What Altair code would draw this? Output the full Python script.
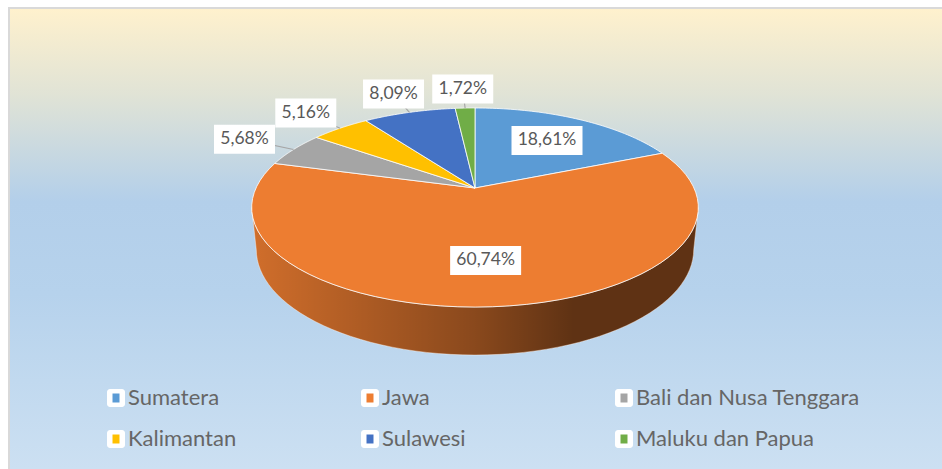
import math
import altair as alt
import pandas as pd

# ---- data ----
regions = ["Sumatera", "Jawa", "Bali dan Nusa Tenggara", "Kalimantan", "Sulawesi", "Maluku dan Papua"]
shares = [18.61, 60.74, 5.68, 5.16, 8.09, 1.72]
labels = ["18,61%", "60,74%", "5,68%", "5,16%", "8,09%", "1,72%"]
colors = ["#5B9BD5", "#ED7D31", "#A5A5A5", "#FFC000", "#4472C4", "#70AD47"]

df = pd.DataFrame({"region": regions, "share": shares, "label": labels,
                   "order": list(range(len(regions)))})

# ---- layout / 3-D projection constants ----
W, H = 942, 469
CX, CY = 475, 188          # apex of the pie on screen
A = 219                    # projected radius scale
S, C = 0.437, 0.8995       # sin / cos of the tilt
Q = 0.218                  # radius / camera distance (perspective)
K = Q * C
HD = 0.213                 # pie thickness (relative to radius)
N = 60                     # vertices per arc
RI, RO = 0.66, 1.3         # label radius inside / outside
T1 = math.acos(-K) / (2 * math.pi)
T2 = 1 - T1
# legend grid
LX0, LY0, LDX, LDY, NCOL = 116, 398, 254, 41, 3


def proj(u, w, h="0"):
    den = f"(1 + {Q * C}*({w}) + {Q * S}*({h}))"
    px = f"{CX} + {A}*({u})/{den}"
    py = f"{CY} - {A}*({S}*({w}) - {C}*({h}))/{den}"
    return px, py


def xs(f):
    return alt.X(f, type="quantitative", axis=None,
                 scale=alt.Scale(domain=[0, W], nice=False, zero=False))


def ys(f):
    return alt.Y(f, type="quantitative", axis=None,
                 scale=alt.Scale(domain=[0, H], nice=False, zero=False, reverse=True))


fill_scale = alt.Scale(domain=regions, range=colors)

base = (
    alt.Chart(df)
    .transform_window(cum="sum(share)", sort=[alt.SortField("order")], frame=[None, 0])
    .transform_joinaggregate(total="sum(share)")
    .transform_calculate(t1="(datum.cum - datum.share)/datum.total")
    .transform_calculate(t2="datum.cum/datum.total")
)

# ---- background panel ----
bg_grad = {
    "gradient": "linear", "x1": 0, "y1": 0, "x2": 0, "y2": 1,
    "stops": [
        {"offset": 0.0, "color": "#FFF1CD"},
        {"offset": 0.19, "color": "#E0E3D6"},
        {"offset": 0.42, "color": "#B3CFEA"},
        {"offset": 0.62, "color": "#B6D2EC"},
        {"offset": 1.0, "color": "#CCE0F2"},
    ],
}
one = pd.DataFrame({"k": [0]})
bg = alt.Chart(one).mark_rect(fill=bg_grad).encode(
    x=alt.value(10), x2=alt.value(W), y=alt.value(8), y2=alt.value(H))
border_top = alt.Chart(one).mark_rule(color="#D9D9D9", strokeWidth=2).encode(
    x=alt.value(9), x2=alt.value(W), y=alt.value(8))
border_left = alt.Chart(one).mark_rule(color="#D9D9D9", strokeWidth=2).encode(
    x=alt.value(9), y=alt.value(7), y2=alt.value(H))

# ---- side (rim) of the pie ----
spx, spy = proj("datum.u", "datum.w", "datum.h")
side_data = (
    base
    .transform_calculate(a=f"max(datum.t1, {T1})")
    .transform_calculate(b=f"min(datum.t2, {T2})")
    .transform_filter("datum.a < datum.b")
    .transform_calculate(idx=f"sequence(0, {2 * N + 2})")
    .transform_flatten(["idx"])
    .transform_calculate(h=f"datum.idx > {N} ? {HD} : 0")
    .transform_calculate(tt=f"datum.idx <= {N} ? datum.a + (datum.b - datum.a)*datum.idx/{N} : datum.b - (datum.b - datum.a)*(datum.idx - {N + 1})/{N}")
    .transform_calculate(u="sin(2*PI*datum.tt)")
    .transform_calculate(w="cos(2*PI*datum.tt)")
    .transform_calculate(px=spx)
    .transform_calculate(py=spy)
)
side = side_data.mark_line(interpolate="linear-closed", stroke="transparent").encode(
    x=xs("px"), y=ys("py"), order=alt.Order("idx:Q"),
    fill=alt.Fill("region:N", scale=fill_scale, sort=regions, legend=None),
)
shade_grad = {
    "gradient": "linear", "x1": 0, "y1": 0, "x2": 1, "y2": 0,
    "stops": [
        {"offset": 0.0, "color": "rgba(0,0,0,0.12)"},
        {"offset": 0.5, "color": "rgba(0,0,0,0.42)"},
        {"offset": 0.72, "color": "rgba(0,0,0,0.6)"},
        {"offset": 1.0, "color": "rgba(0,0,0,0.6)"},
    ],
}
shade = side_data.mark_line(interpolate="linear-closed", fill=shade_grad, stroke="#FFFFFF",
                            strokeWidth=0.8, strokeOpacity=0.5).encode(
    x=xs("px"), y=ys("py"), order=alt.Order("idx:Q"), detail="region:N",
)

# ---- top face ----
tpx, tpy = proj("datum.u", "datum.w")
top = (
    base
    .transform_calculate(idx=f"sequence(0, {N + 2})")
    .transform_flatten(["idx"])
    .transform_calculate(tt=f"datum.t1 + (datum.t2 - datum.t1)*min(datum.idx, {N})/{N}")
    .transform_calculate(u=f"datum.idx > {N} ? 0 : sin(2*PI*datum.tt)")
    .transform_calculate(w=f"datum.idx > {N} ? 0 : cos(2*PI*datum.tt)")
    .transform_calculate(px=tpx)
    .transform_calculate(py=tpy)
    .mark_line(interpolate="linear-closed", stroke="#FFFFFF", strokeWidth=1, strokeOpacity=0.8)
    .encode(
        x=xs("px"), y=ys("py"), order=alt.Order("idx:Q"),
        fill=alt.Fill("region:N", scale=fill_scale, sort=regions, legend=None),
    )
)

# ---- legend (3 columns x 2 rows, drawn from the category list) ----
leg = (
    alt.Chart(df)
    .transform_calculate(gx=f"{LX0} + {LDX}*(datum.order % {NCOL})")
    .transform_calculate(gy=f"{LY0} + {LDY}*floor(datum.order / {NCOL})")
    .transform_calculate(ox1="datum.gx - 9", ox2="datum.gx + 9",
                         oy1="datum.gy - 9", oy2="datum.gy + 9")
    .transform_calculate(ix1="datum.gx - 3.5", ix2="datum.gx + 3.5",
                         iy1="datum.gy - 4.5", iy2="datum.gy + 4.5")
    .transform_calculate(tx="datum.gx + 12")
)
leg_box = leg.mark_rect(fill="white", cornerRadius=3).encode(
    x=xs("ox1"), x2="ox2:Q", y=ys("oy1"), y2="oy2:Q")
leg_sym = leg.mark_rect().encode(
    x=xs("ix1"), x2="ix2:Q", y=ys("iy1"), y2="iy2:Q",
    fill=alt.Fill("region:N", scale=fill_scale, sort=regions, legend=None))
leg_txt = leg.mark_text(font="Lato", fontSize=22, color="#666666", align="left", baseline="middle").encode(
    x=xs("tx"), y=ys("gy"), text="region:N")

# ---- data labels ----
lab = (
    base
    .transform_calculate(mid="(datum.t1 + datum.t2)/2")
    .transform_calculate(u="sin(2*PI*datum.mid)")
    .transform_calculate(w="cos(2*PI*datum.mid)")
    .transform_calculate(rr=f"datum.share/datum.total >= 0.1 ? {RI} : {RO}")
    .transform_calculate(lx=f"{CX} + {A}*datum.rr*datum.u/(1 + {K}*datum.rr*datum.w)")
    .transform_calculate(ly=f"{CY} - {A * S}*datum.rr*datum.w/(1 + {K}*datum.rr*datum.w)")
    .transform_calculate(ex=f"{CX} + {A}*datum.u/(1 + {K}*datum.w)")
    .transform_calculate(ey=f"{CY} - {A * S}*datum.w/(1 + {K}*datum.w)")
    .transform_calculate(hw="5*length(datum.label) + 5.5")
    .transform_calculate(bx1="datum.lx - datum.hw")
    .transform_calculate(bx2="datum.lx + datum.hw")
    .transform_calculate(by1="datum.ly - 14.5")
    .transform_calculate(by2="datum.ly + 14.5")
)
leader = lab.transform_filter("datum.share/datum.total < 0.1").mark_rule(
    color="#A6A6A6", strokeWidth=1.2
).encode(x=xs("ex"), y=ys("ey"), x2="lx:Q", y2="ly:Q")
boxes = lab.mark_rect(fill="white").encode(x=xs("bx1"), x2="bx2:Q", y=ys("by1"), y2="by2:Q")
texts = lab.mark_text(font="Lato", fontSize=17.5, color="#595959", baseline="middle", align="center").encode(
    x=xs("lx"), y=ys("ly"), text="label:N"
)

chart = (
    alt.layer(bg, border_top, border_left, side, shade, top,
              leg_box, leg_sym, leg_txt, leader, boxes, texts)
    .properties(width=W, height=H, padding=0, autosize="none", background="white")
    .configure_view(strokeWidth=0)
)

chart.save("out.html", embed_options={"renderer": "svg", "actions": False})
